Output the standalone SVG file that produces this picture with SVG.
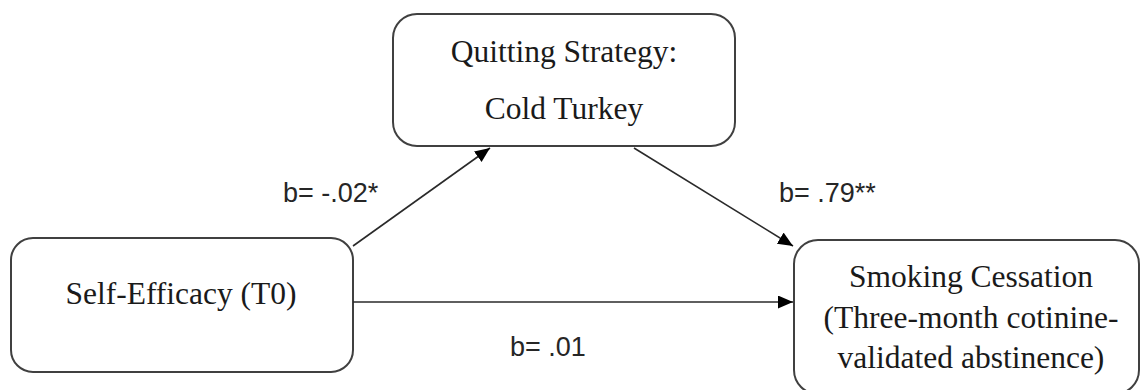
<svg xmlns="http://www.w3.org/2000/svg" width="1141" height="390" viewBox="0 0 1141 390">
  <style>
    .box { fill: #ffffff; stroke: #404040; stroke-width: 2; }
    .nodetext { font-family: "Liberation Serif", "Times New Roman", serif; font-size: 31.5px; fill: #1a1a1a; text-anchor: middle; }
    .conn { stroke: #2a2a2a; stroke-width: 1.6; fill: none; marker-end: url(#arrow); }
    .label { font-family: "Liberation Sans", Arial, sans-serif; font-size: 27px; fill: #262626; }
  </style>
  <defs>
    <marker id="arrow" markerUnits="userSpaceOnUse" markerWidth="16" markerHeight="14" refX="15" refY="6.5" orient="auto">
      <path d="M0,0 L15,6.5 L0,13 z" fill="#000000"/>
    </marker>
  </defs>
  <rect width="1141" height="390" fill="#ffffff"/>

  <g id="node-quitting">
    <rect class="box" x="393" y="14" width="342" height="132" rx="24" ry="24"/>
    <text class="nodetext" x="564" y="62">Quitting Strategy:</text>
    <text class="nodetext" x="564" y="119">Cold Turkey</text>
  </g>

  <g id="node-selfefficacy">
    <rect class="box" x="11" y="238" width="342" height="134" rx="22" ry="22"/>
    <text class="nodetext" x="181" y="304">Self-Efficacy (T0)</text>
  </g>

  <g id="node-cessation">
    <rect class="box" x="794" y="240" width="345" height="154" rx="24" ry="24"/>
    <text class="nodetext" x="971" y="287">Smoking Cessation</text>
    <text class="nodetext" x="971" y="328">(Three-month cotinine-</text>
    <text class="nodetext" x="971" y="368">validated abstinence)</text>
  </g>

  <g id="connectors">
    <line class="conn" x1="353" y1="246" x2="490" y2="148"/>
    <line class="conn" x1="634" y1="148" x2="793" y2="246"/>
    <line class="conn" x1="353" y1="302" x2="793" y2="302"/>
    <text class="label" x="283" y="202">b= -.02*</text>
    <text class="label" x="779" y="202">b= .79**</text>
    <text class="label" x="510" y="356">b= .01</text>
  </g>
</svg>
